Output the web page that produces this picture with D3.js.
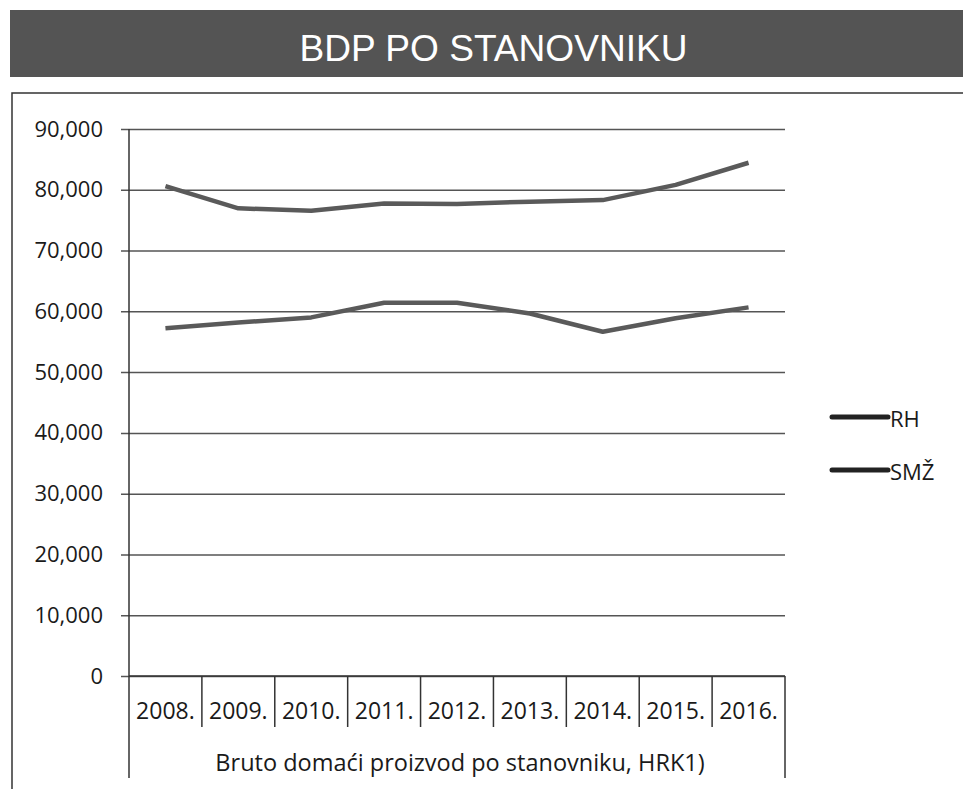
<!DOCTYPE html>
<html>
<head>
<meta charset="utf-8">
<script src="https://cdn.jsdelivr.net/npm/d3@7"></script>
<style>
  body { margin: 0; background: #fff; }
  text { font-family: "Open Sans", "Noto Sans", sans-serif; }
</style>
</head>
<body>
<div class="canvas"></div>
<script>
const years = ['2008.', '2009.', '2010.', '2011.', '2012.', '2013.', '2014.', '2015.', '2016.'];
const rh = [80600, 76950, 76550, 77750, 77650, 78050, 78300, 80800, 84450];
const smz = [57200, 58150, 59000, 61400, 61400, 59650, 56650, 58850, 60650];
const seriesNames = ['RH', 'SMŽ'];
const yTicks = [0, 10000, 20000, 30000, 40000, 50000, 60000, 70000, 80000, 90000];

const dims = { width: 963, height: 789 };
const plot = { left: 129, right: 785, top: 129, bottom: 676 };

const svg = d3.select('.canvas')
  .append('svg')
  .attr('width', dims.width)
  .attr('height', dims.height);

// title bar
svg.append('rect')
  .attr('x', 10).attr('y', 10)
  .attr('width', 953).attr('height', 67)
  .attr('fill', '#545454');

svg.append('text')
  .attr('x', 493.5).attr('y', 61)
  .attr('text-anchor', 'middle')
  .attr('fill', '#fff')
  .style('font-family', '"Liberation Sans", Arial, sans-serif')
  .attr('font-size', 37)
  .attr('textLength', 388)
  .attr('lengthAdjust', 'spacingAndGlyphs')
  .text('BDP PO STANOVNIKU');

// chart frame
svg.append('path')
  .attr('d', 'M12,789 V93 H963')
  .attr('fill', 'none')
  .attr('stroke', '#333')
  .attr('stroke-width', 1.5);

const x = d3.scaleBand()
  .domain(years)
  .range([plot.left, plot.right])
  .padding(0);

const y = d3.scaleLinear()
  .domain([0, 90000])
  .range([plot.bottom, plot.top]);

// y axis with gridlines
const yAxis = svg.append('g')
  .attr('transform', `translate(${plot.left},0)`)
  .call(d3.axisLeft(y)
    .tickValues(yTicks)
    .tickSize(-(plot.right - plot.left))
    .tickPadding(26)
    .tickFormat(d3.format(',')));

yAxis.select('.domain').remove();
yAxis.selectAll('.tick line')
  .attr('x1', -8)
  .attr('stroke', '#555')
  .attr('stroke-width', 1.5);
yAxis.selectAll('.tick text')
  .attr('fill', '#1a1a1a')
  .attr('font-size', 22)
  .style('font-family', '"Open Sans", sans-serif');

// vertical axis line
svg.append('line')
  .attr('x1', plot.left).attr('x2', plot.left)
  .attr('y1', plot.top).attr('y2', plot.bottom)
  .attr('stroke', '#333').attr('stroke-width', 1.5);

// category table under the axis
const table = svg.append('g');
table.append('line')
  .attr('x1', plot.left).attr('x2', plot.right)
  .attr('y1', plot.bottom).attr('y2', plot.bottom)
  .attr('stroke', '#333').attr('stroke-width', 1.5);

table.selectAll('.div')
  .data(years.slice(1))
  .enter().append('line')
  .attr('x1', d => x(d)).attr('x2', d => x(d))
  .attr('y1', plot.bottom).attr('y2', 727)
  .attr('stroke', '#333').attr('stroke-width', 1.5);

table.selectAll('.edge')
  .data([plot.left, plot.right])
  .enter().append('line')
  .attr('x1', d => d).attr('x2', d => d)
  .attr('y1', plot.bottom).attr('y2', 778)
  .attr('stroke', '#333').attr('stroke-width', 1.5);

table.selectAll('.year')
  .data(years)
  .enter().append('text')
  .attr('x', d => x(d) + x.bandwidth() / 2)
  .attr('y', 719)
  .attr('text-anchor', 'middle')
  .attr('font-size', 23)
  .attr('fill', '#1a1a1a')
  .text(d => d);

table.append('text')
  .attr('x', (plot.left + plot.right) / 2 + 3)
  .attr('y', 771)
  .attr('text-anchor', 'middle')
  .attr('font-size', 23.5)
  .attr('fill', '#1a1a1a')
  .text('Bruto domaći proizvod po stanovniku, HRK1)');

// lines
const line = d3.line()
  .x((d, i) => x(years[i]) + x.bandwidth() / 2)
  .y(d => y(d));

svg.selectAll('.series')
  .data([rh, smz])
  .enter().append('path')
  .attr('d', line)
  .attr('fill', 'none')
  .attr('stroke', '#5a5a5a')
  .attr('stroke-width', 4.5)
  .attr('stroke-linejoin', 'round');

// legend
const legend = svg.append('g')
  .attr('transform', 'translate(832, 417)');

const items = legend.selectAll('g')
  .data(seriesNames)
  .enter().append('g')
  .attr('transform', (d, i) => `translate(0, ${i * 53})`);

items.append('line')
  .attr('x1', 0).attr('x2', 56)
  .attr('stroke', '#222')
  .attr('stroke-width', 5)
  .attr('stroke-linecap', 'round');

items.append('text')
  .attr('x', 58).attr('y', 10)
  .attr('font-size', 22)
  .attr('fill', '#1a1a1a')
  .text(d => d);
</script>
</body>
</html>
